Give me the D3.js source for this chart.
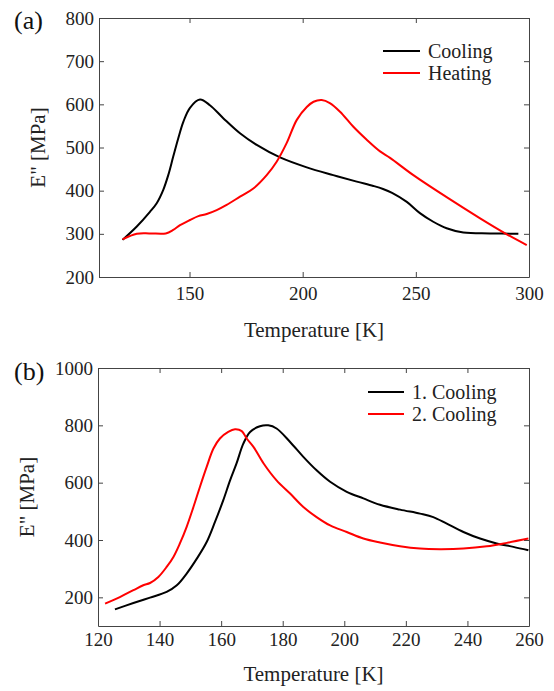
<!DOCTYPE html>
<html lang="en">
<head>
<meta charset="UTF-8">
<title>E'' vs Temperature</title>
<script src="https://cdnjs.cloudflare.com/ajax/libs/d3/7.8.5/d3.min.js"></script>
<style>
    body { margin: 0; background: #fff; }
    svg { display: block; font-family: "Liberation Serif", "Times New Roman", serif; }
    .axis path, .axis line { stroke: #444; }
    .axis text { font-size: 19px; fill: #222; font-family: "Liberation Serif", "Times New Roman", serif; }
    .legend-text { font-size: 20px; fill: #222; }
    .title { font-size: 21px; fill: #222; }
    .panel-tag { font-size: 26px; fill: #111; }
    .curve { fill: none; stroke-width: 2px; }
</style>
</head>
<body>
<div id="chart"></div>
<script>
// panel (a): cooling vs heating
const coolingA = [
    [120.4, 286], [126.7, 317], [132.5, 351], [135.5, 371], [138.4, 402], [140.6, 436],
    [142.8, 479], [145, 521], [147.3, 560], [150.2, 592], [154.6, 611],
    [159, 598], [164.9, 568], [172.3, 533], [179.7, 506], [190, 477], [201.8, 454],
    [213.5, 436], [223.9, 421], [231.2, 411], [235.5, 404], [239.5, 395], [246, 374],
    [251.8, 348], [257.7, 328], [263.6, 313], [271, 303], [282.8, 301], [295.3, 300]
];
const heatingA = [
    [120.4, 287], [126.7, 300], [132.5, 301], [139.5, 301], [142.8, 309], [145.8, 320],
    [150.2, 332], [153.9, 341], [157.6, 346], [162, 355], [166.4, 367], [172.3, 386],
    [178.2, 405], [184.1, 436], [188.5, 467], [192.9, 510], [197.4, 564], [201.8, 594],
    [204.8, 606], [208.4, 610], [212, 603], [216.5, 583], [222.4, 548], [228.3, 518],
    [234.2, 491], [238.6, 476], [248.9, 436], [263.6, 385], [278.4, 336], [290.2, 299],
    [299, 274]
];
// panel (b): first and second cooling
const cooling1B = [
    [125.5, 158], [131.5, 180], [136.9, 199], [142.3, 219], [145.6, 242], [148.8, 283],
    [152.1, 335], [155.3, 393], [158, 463], [160.7, 539], [162.9, 608], [165, 667],
    [167.2, 736], [169.4, 777], [172.6, 797], [175.3, 800], [178, 789], [182.4, 742],
    [186.7, 690], [191, 643], [195.4, 603], [200.8, 568], [206.2, 545], [211.6, 523],
    [218.1, 506], [224.6, 492], [228.9, 480], [233.3, 457], [238.7, 428], [244.1, 405],
    [249.5, 388], [254.9, 376], [259.8, 364]
];
const cooling2B = [
    [122.3, 178], [127.1, 201], [131.5, 225], [134.7, 242], [136.9, 250], [139.6, 271],
    [142.3, 306], [144.5, 341], [146.6, 388], [148.8, 446], [151, 515], [153.1, 585],
    [155.3, 655], [157.5, 719], [159.6, 754], [162.3, 777], [164.5, 786], [166.7, 780],
    [168.3, 754], [170.5, 725], [173.8, 667], [178, 608], [182.4, 562], [186.7, 515],
    [191, 480], [195.4, 451], [200.8, 428], [206.2, 405], [211.6, 391], [218.1, 378],
    [224.6, 370], [231.1, 368], [238.7, 370], [246.3, 378], [252.8, 390], [259.8, 405]
];

const xTicksA = [150, 200, 250, 300];
const yTicksA = [200, 300, 400, 500, 600, 700, 800];
const xTicksB = [120, 140, 160, 180, 200, 220, 240, 260];
const yTicksB = [200, 400, 600, 800, 1000];

const W = 554, H = 691;
const svg = d3.select("#chart").append("svg")
    .attr("width", W).attr("height", H);

const panels = [
    {
        tag: "(a)", tagY: 29, top: 18, bottom: 277, left: 99, right: 529,
        xDomain: [110, 300], yDomain: [200, 800],
        xTicks: xTicksA, yTicks: yTicksA,
        series: [
            {name: "Cooling", data: coolingA, color: "#000"},
            {name: "Heating", data: heatingA, color: "#ff0000"}
        ],
        legend: {x1: 383, x2: 420, tx: 428, y: 51},
        xTitleY: 337, yTitleX: 45, xPad: 10
    },
    {
        tag: "(b)", tagY: 380, top: 368, bottom: 626, left: 98, right: 529,
        xDomain: [120, 260], yDomain: [100, 1000],
        xTicks: xTicksB, yTicks: yTicksB,
        series: [
            {name: "1. Cooling", data: cooling1B, color: "#000"},
            {name: "2. Cooling", data: cooling2B, color: "#ff0000"}
        ],
        legend: {x1: 368, x2: 404, tx: 412, y: 392},
        xTitleY: 681, yTitleX: 34, xPad: 7
    }
];

panels.forEach(p => {
    const x = d3.scaleLinear().domain(p.xDomain).range([p.left, p.right]);
    const y = d3.scaleLinear().domain(p.yDomain).range([p.bottom, p.top]);
    const g = svg.append("g");

    // closed frame, ticks point inward on all four sides
    g.append("g").attr("class", "axis")
        .attr("transform", `translate(0,${p.bottom})`)
        .call(d3.axisBottom(x).tickValues(p.xTicks).tickSizeInner(-5).tickSizeOuter(0).tickPadding(p.xPad).tickFormat(d3.format("d")));
    g.append("g").attr("class", "axis")
        .attr("transform", `translate(${p.left},0)`)
        .call(d3.axisLeft(y).tickValues(p.yTicks).tickSizeInner(-5).tickSizeOuter(0).tickPadding(5).tickFormat(d3.format("d")));
    g.append("g").attr("class", "axis")
        .attr("transform", `translate(0,${p.top})`)
        .call(d3.axisTop(x).tickValues(p.xTicks).tickSizeInner(-5).tickSizeOuter(0).tickFormat(""));
    g.append("g").attr("class", "axis")
        .attr("transform", `translate(${p.right},0)`)
        .call(d3.axisRight(y).tickValues(p.yTicks).tickSizeInner(-5).tickSizeOuter(0).tickFormat(""));

    const line = d3.line()
        .x(d => x(d[0]))
        .y(d => y(d[1]))
        .curve(d3.curveCatmullRom);

    p.series.forEach(s => {
        g.append("path")
            .datum(s.data)
            .attr("class", "curve")
            .attr("stroke", s.color)
            .attr("d", line);
    });

    // legend
    p.series.forEach((s, i) => {
        const ly = p.legend.y + i * 22;
        g.append("line")
            .attr("x1", p.legend.x1).attr("x2", p.legend.x2)
            .attr("y1", ly).attr("y2", ly)
            .attr("stroke", s.color).attr("stroke-width", 2);
        g.append("text").attr("class", "legend-text")
            .attr("x", p.legend.tx).attr("y", ly)
            .attr("dy", "0.35em")
            .text(s.name);
    });

    g.append("text").attr("class", "panel-tag")
        .attr("x", 14).attr("y", p.tagY)
        .text(p.tag);

    g.append("text").attr("class", "title")
        .attr("text-anchor", "middle")
        .attr("x", (p.left + p.right) / 2).attr("y", p.xTitleY)
        .text("Temperature [K]");

    g.append("text").attr("class", "title")
        .attr("text-anchor", "middle")
        .attr("transform", `translate(${p.yTitleX},${(p.top + p.bottom) / 2})rotate(-90)`)
        .text('E" [MPa]');
});
</script>
</body>
</html>
